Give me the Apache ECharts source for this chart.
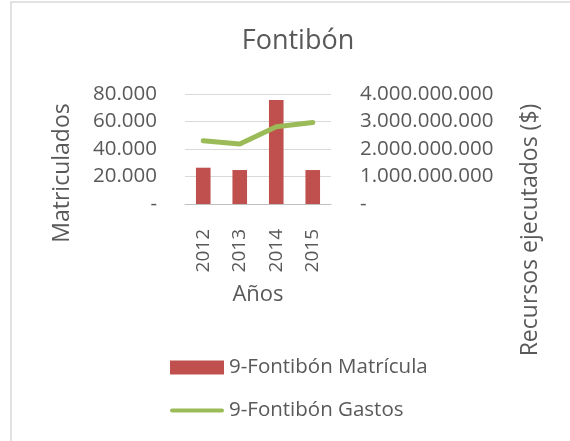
<!DOCTYPE html>
<html lang="es">
<head>
<meta charset="UTF-8">
<title>Fontibón</title>
<style>
  html, body { margin: 0; padding: 0; background: #fff; }
  #main { width: 570px; height: 441px; }
</style>
</head>
<body>
<div id="main"></div>
<script src="https://cdn.jsdelivr.net/npm/echarts@6/dist/echarts.min.js"></script>
<script>
var years = ['2012', '2013', '2014', '2015'];
var matricula = [26400, 24700, 75600, 24700];
var gastos = [2300000000, 2180000000, 2810000000, 2960000000];
var leftTicks = { min: 0, max: 80000, interval: 20000 };
var rightTicks = { min: 0, max: 4000000000, interval: 1000000000 };

var txt = '#595959';
var font = 'Open Sans';

// 80000 -> "80.000", 0 -> "-"
function miles(v) {
    if (v === 0) return '-';
    return String(v).replace(/\B(?=(\d{3})+(?!\d))/g, '.');
}

var myChart = echarts.init(document.getElementById('main'));
var option = {
    backgroundColor: '#fff',
    textStyle: { fontFamily: font, color: txt },
    title: {
        text: 'Fontibón',
        left: 293, top: 23, textAlign: 'center',
        textStyle: { fontFamily: font, fontSize: 27, fontWeight: 'normal', color: txt }
    },
    grid: { left: 185, right: 239, top: 94, bottom: 237 },
    legend: {
        orient: 'vertical',
        left: 165, top: 352,
        itemWidth: 54, itemHeight: 14, itemGap: 22,
        textStyle: { fontFamily: font, fontSize: 20.5, color: txt },
        data: [
            { name: '9-Fontibón Matrícula', icon: 'rect' },
            { name: '9-Fontibón Gastos', icon: 'path://M2,0 H52 A2,2 0 0 1 52,4 H2 A2,2 0 0 1 2,0 Z', itemStyle: { color: '#9BBB59' } }
        ]
    },
    graphic: [
        { type: 'rect', shape: { x: 11, y: 2, width: 600, height: 500 }, style: { fill: 'none', stroke: '#D9D9D9', lineWidth: 1.5 }, silent: true },
        { type: 'text', x: 62, y: 173, rotation: Math.PI / 2,
          style: { text: 'Matriculados', fontFamily: font, fontSize: 23, fill: txt, align: 'center', verticalAlign: 'middle' } },
        { type: 'text', x: 530, y: 230, rotation: Math.PI / 2,
          style: { text: 'Recursos ejecutados ($)', fontFamily: font, fontSize: 23, fill: txt, align: 'center', verticalAlign: 'middle' } }
    ],
    xAxis: {
        type: 'category',
        data: years,
        name: 'Años',
        nameLocation: 'middle',
        nameGap: 80,
        nameTextStyle: { fontFamily: font, fontSize: 22, color: txt },
        axisLine: { lineStyle: { color: '#BFBFBF', width: 1 } },
        axisTick: { length: 7, lineStyle: { color: '#BFBFBF' } },
        axisLabel: { rotate: 90, margin: 25, fontFamily: font, fontSize: 19, color: txt }
    },
    yAxis: [
        {
            type: 'value',
            min: leftTicks.min, max: leftTicks.max, interval: leftTicks.interval,
            axisLine: { show: false }, axisTick: { show: false },
            splitLine: { lineStyle: { color: '#D9D9D9', width: 1 } },
            axisLabel: { margin: 28, fontFamily: font, fontSize: 20.5, color: txt, formatter: miles }
        },
        {
            type: 'value',
            min: rightTicks.min, max: rightTicks.max, interval: rightTicks.interval,
            axisLine: { show: false }, axisTick: { show: false },
            splitLine: { show: false },
            axisLabel: { margin: 29, fontFamily: font, fontSize: 20.5, color: txt, formatter: miles }
        }
    ],
    series: [
        {
            name: '9-Fontibón Matrícula',
            type: 'bar',
            yAxisIndex: 0,
            barWidth: '40%',
            itemStyle: { color: '#C0504D' },
            data: matricula
        },
        {
            name: '9-Fontibón Gastos',
            type: 'line',
            yAxisIndex: 1,
            symbol: 'none',
            lineStyle: { color: '#9BBB59', width: 5, cap: 'round', join: 'round' },
            itemStyle: { color: '#9BBB59' },
            data: gastos
        }
    ]
};
myChart.setOption(option);
</script>
</body>
</html>
